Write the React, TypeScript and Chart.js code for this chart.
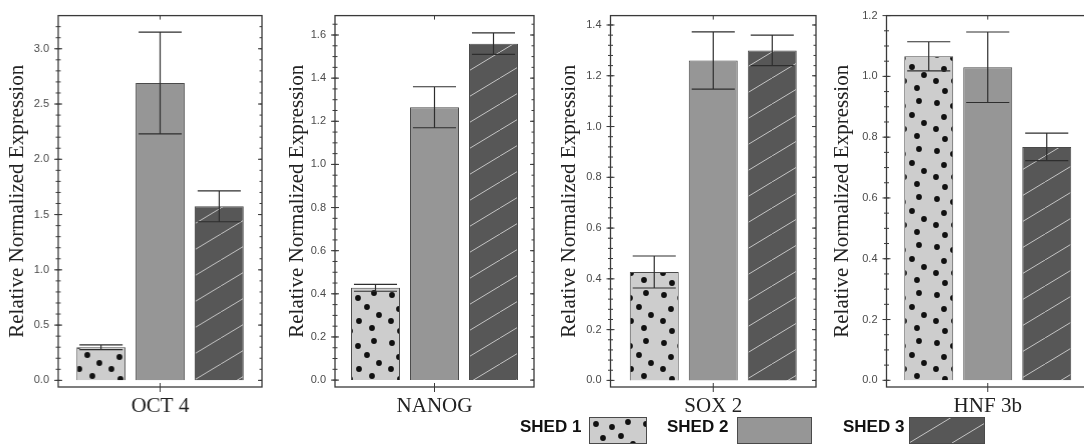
import React, { useEffect, useRef } from "react";
import { Chart, registerables } from "chart.js";

Chart.register(...registerables);

// ---------- data ----------
const seriesNames = ["SHED 1", "SHED 2", "SHED 3"];

const octCategory = ["OCT 4"];
const octMeans = [0.3, 2.69, 1.575];
const octErrors = [0.022, 0.46, 0.14];
const octTicks = [0, 0.5, 1.0, 1.5, 2.0, 2.5, 3.0];

const nanogCategory = ["NANOG"];
const nanogMeans = [0.428, 1.265, 1.56];
const nanogErrors = [0.016, 0.095, 0.05];
const nanogTicks = [0, 0.2, 0.4, 0.6, 0.8, 1.0, 1.2, 1.4, 1.6];

const soxCategory = ["SOX 2"];
const soxMeans = [0.427, 1.26, 1.3];
const soxErrors = [0.063, 0.113, 0.06];
const soxTicks = [0, 0.2, 0.4, 0.6, 0.8, 1.0, 1.2, 1.4];

const hnfCategory = ["HNF 3b"];
const hnfMeans = [1.066, 1.03, 0.768];
const hnfErrors = [0.048, 0.116, 0.045];
const hnfTicks = [0, 0.2, 0.4, 0.6, 0.8, 1.0, 1.2];

const yTitle = "Relative Normalized Expression";

// ---------- layout / style ----------
const CANVAS_H = 430;
const PLOT_BOTTOM = 387;
const PAD_RIGHT = 3;

type Panel = {
  category: string[];
  means: number[];
  errors: number[];
  ticks: number[];
  minorStep: number;
  yMin: number;
  yMax: number;
  canvasLeft: number;
  plotLeft: number;
  plotRight: number;
  plotTop: number;
};

const panels: Panel[] = [
  { category: octCategory, means: octMeans, errors: octErrors, ticks: octTicks, minorStep: 0.1, yMin: -0.06, yMax: 3.3, canvasLeft: 5, plotLeft: 58, plotRight: 261.5, plotTop: 11 },
  { category: nanogCategory, means: nanogMeans, errors: nanogErrors, ticks: nanogTicks, minorStep: 0.05, yMin: -0.032, yMax: 1.69, canvasLeft: 285, plotLeft: 335, plotRight: 534, plotTop: 11 },
  { category: soxCategory, means: soxMeans, errors: soxErrors, ticks: soxTicks, minorStep: 0.04, yMin: -0.026, yMax: 1.437, canvasLeft: 557, plotLeft: 610.5, plotRight: 816, plotTop: 12 },
  { category: hnfCategory, means: hnfMeans, errors: hnfErrors, ticks: hnfTicks, minorStep: 0.05, yMin: -0.022, yMax: 1.2, canvasLeft: 830, plotLeft: 886.5, plotRight: 1089, plotTop: 11.7 },
];

const FILL1 = "#cdcdcd";
const FILL2 = "#969696";
const FILL3 = "#575757";
const BAR_BORDER = "#4a4a4a";
const AXIS_COLOR = "#3a3a3a";

const dotPositions: [number, number][] = [
  [7, 7], [23, 10], [39, 5], [14, 21], [32, 19], [44, 27], [6, 33], [24, 33], [37, 40], [15, 43],
];

function makeDotPattern(ctx: CanvasRenderingContext2D): CanvasPattern | string {
  const c = document.createElement("canvas");
  c.width = 50;
  c.height = 48;
  const g = c.getContext("2d")!;
  g.fillStyle = FILL1;
  g.fillRect(0, 0, 50, 48);
  g.fillStyle = "#111";
  for (const [x, y] of dotPositions) {
    g.beginPath();
    g.arc(x, y, 2.9, 0, Math.PI * 2);
    g.fill();
  }
  return ctx.createPattern(c, "repeat") || FILL1;
}

function makeHatchPattern(ctx: CanvasRenderingContext2D): CanvasPattern | string {
  const W = 43, H = 26;
  const c = document.createElement("canvas");
  c.width = W;
  c.height = H;
  const g = c.getContext("2d")!;
  g.fillStyle = FILL3;
  g.fillRect(0, 0, W, H);
  g.strokeStyle = "#c4c4c4";
  g.lineWidth = 1;
  for (const dx of [-W, 0, W]) {
    g.beginPath();
    g.moveTo(dx, H);
    g.lineTo(dx + W, 0);
    g.stroke();
  }
  return ctx.createPattern(c, "repeat") || FILL3;
}

function PanelChart({ p }: { p: Panel }) {
  const ref = useRef<HTMLCanvasElement | null>(null);
  const width = p.plotRight - p.canvasLeft + PAD_RIGHT;

  useEffect(() => {
    const canvas = ref.current!;
    const ctx = canvas.getContext("2d")!;
    const dot = makeDotPattern(ctx);
    const hatch = makeHatchPattern(ctx);
    const fills = [dot, FILL2, hatch];
    const plotW = p.plotRight - p.plotLeft;

    const decor = {
      id: "decor",
      afterDatasetsDraw(chart: any) {
        const c = chart.ctx as CanvasRenderingContext2D;
        const ys = chart.scales.y;
        const xs = chart.scales.x;
        const a = chart.chartArea;
        c.save();
        // error bars
        c.strokeStyle = "#2e2e2e";
        c.lineWidth = 1.2;
        p.means.forEach((m, i) => {
          const bar = chart.getDatasetMeta(i).data[0];
          const x = bar.x;
          const half = bar.width * 0.44;
          const yh = ys.getPixelForValue(m + p.errors[i]);
          const yl = ys.getPixelForValue(m - p.errors[i]);
          c.beginPath();
          c.moveTo(x, yh);
          c.lineTo(x, yl);
          c.moveTo(x - half, yh);
          c.lineTo(x + half, yh);
          c.moveTo(x - half, yl);
          c.lineTo(x + half, yl);
          c.stroke();
        });
        // frame
        c.strokeStyle = AXIS_COLOR;
        c.lineWidth = 1.3;
        c.strokeRect(a.left, a.top, a.right - a.left, a.bottom - a.top);
        // major ticks
        c.lineWidth = 1;
        for (const v of p.ticks) {
          const y = ys.getPixelForValue(v);
          c.beginPath();
          c.moveTo(a.left - 4, y);
          c.lineTo(a.left + 4, y);
          c.moveTo(a.right - 4, y);
          c.lineTo(a.right, y);
          c.stroke();
        }
        // minor ticks
        const n = Math.round(p.yMax / p.minorStep);
        for (let k = 0; k <= n; k++) {
          const v = k * p.minorStep;
          if (v > p.yMax) break;
          const y = ys.getPixelForValue(v);
          c.beginPath();
          c.moveTo(a.left - 2.5, y);
          c.lineTo(a.left + 2.5, y);
          c.moveTo(a.right - 2.5, y);
          c.lineTo(a.right, y);
          c.stroke();
        }
        // x ticks
        const xc = xs.getPixelForValue(0);
        c.beginPath();
        c.moveTo(xc, a.bottom - 4);
        c.lineTo(xc, a.bottom + 5);
        c.moveTo(xc, a.top);
        c.lineTo(xc, a.top + 4);
        c.stroke();
        c.restore();
      },
    };

    const chart = new Chart(canvas, {
      type: "bar",
      data: {
        labels: p.category,
        datasets: seriesNames.map((name, i) => ({
          label: name,
          data: [p.means[i]],
          backgroundColor: fills[i] as any,
          borderColor: BAR_BORDER,
          borderWidth: 1,
          barPercentage: 0.83,
          categoryPercentage: 177 / plotW,
        })),
      },
      options: {
        animation: false,
        responsive: false,
        maintainAspectRatio: false,
        devicePixelRatio: 1,
        layout: { padding: { left: 0, top: p.plotTop, right: PAD_RIGHT, bottom: 0 } },
        plugins: {
          legend: { display: false },
          tooltip: { enabled: false },
          title: { display: false },
        },
        scales: {
          x: {
            type: "category",
            grid: { display: false, drawTicks: false },
            border: { display: false },
            ticks: {
              font: { family: "'Liberation Serif', serif", size: 21 },
              color: "#222",
              padding: 7,
            },
            afterFit: (s: any) => {
              s.height = CANVAS_H - PLOT_BOTTOM;
            },
          },
          y: {
            type: "linear",
            min: p.yMin,
            max: p.yMax,
            grid: { display: false, drawTicks: false },
            border: { display: false },
            afterBuildTicks: (s: any) => {
              s.ticks = p.ticks.map((v) => ({ value: v }));
            },
            ticks: {
              font: { family: "'Liberation Sans', sans-serif", size: 11 },
              color: "#4a4a4a",
              padding: 9,
              callback: (v: any) => Number(v).toFixed(1),
            },
            title: {
              display: true,
              text: yTitle,
              font: { family: "'Liberation Serif', serif", size: 21 },
              color: "#222",
              padding: { top: 0, bottom: 0 },
            },
            afterFit: (s: any) => {
              s.width = p.plotLeft - p.canvasLeft;
            },
          },
        },
      },
      plugins: [decor],
    } as any);
    return () => chart.destroy();
  }, [p]);

  return (
    <canvas
      ref={ref}
      width={width}
      height={CANVAS_H}
      style={{ position: "absolute", left: p.canvasLeft, top: 0, width, height: CANVAS_H }}
    />
  );
}

function Swatch({ left, width, kind }: { left: number; width: number; kind: number }) {
  const ref = useRef<HTMLCanvasElement | null>(null);
  useEffect(() => {
    const c = ref.current!;
    const g = c.getContext("2d")!;
    const fill = kind === 0 ? makeDotPattern(g) : kind === 1 ? FILL2 : makeHatchPattern(g);
    g.fillStyle = fill as any;
    g.fillRect(0, 0, c.width, c.height);
    g.strokeStyle = BAR_BORDER;
    g.lineWidth = 1;
    g.strokeRect(0.5, 0.5, c.width - 1, c.height - 1);
  }, [kind]);
  return (
    <canvas
      ref={ref}
      width={width}
      height={27}
      style={{ position: "absolute", left, top: 417, width, height: 27 }}
    />
  );
}

const legendText: React.CSSProperties = {
  position: "absolute",
  top: 418,
  fontFamily: "'Liberation Sans', Arial, sans-serif",
  fontWeight: "bold",
  fontSize: 17,
  lineHeight: "17px",
  color: "#111",
  whiteSpace: "nowrap",
};

export default function App() {
  return (
    <div
      style={{
        position: "absolute",
        left: 0,
        top: 0,
        width: 1084,
        height: 446,
        overflow: "hidden",
        background: "#fff",
      }}
    >
      {panels.map((p, i) => (
        <PanelChart key={i} p={p} />
      ))}
      <div style={{ ...legendText, left: 520 }}>{seriesNames[0]}</div>
      <Swatch left={589} width={58} kind={0} />
      <div style={{ ...legendText, left: 667 }}>{seriesNames[1]}</div>
      <Swatch left={737} width={75} kind={1} />
      <div style={{ ...legendText, left: 843 }}>{seriesNames[2]}</div>
      <Swatch left={909} width={76} kind={2} />
    </div>
  );
}
